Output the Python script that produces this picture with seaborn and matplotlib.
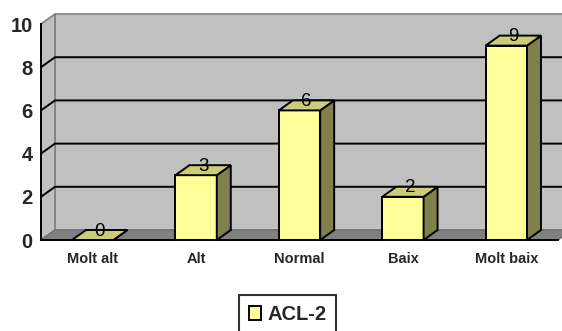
import matplotlib
matplotlib.use("Agg")
import matplotlib.pyplot as plt
import seaborn as sns
from matplotlib.patches import Polygon, Patch

categories = ["Molt alt", "Alt", "Normal", "Baix", "Molt baix"]
values = [0, 3, 6, 2, 9]
series_name = "ACL-2"
y_ticks = [0, 2, 4, 6, 8, 10]

FACE = "#FFFF99"
TOP = "#CCCC7A"
SIDE = "#80804D"
WALL = "#C0C0C0"
FLOOR = "#808080"
EDGE_W = 1.4

sns.set_style("white")
plt.rcParams["font.family"] = ["Liberation Sans", "DejaVu Sans"]
plt.rcParams["font.weight"] = "bold"

W, H = 562, 331
fig = plt.figure(figsize=(W / 100, H / 100), dpi=100)
left, right, base, top = 41, 558, 240, 24
ax = fig.add_axes([left / W, (H - base) / H, (right - left) / W, (base - top) / H])
ax.patch.set_visible(False)

xmin, xmax = -0.5, len(categories) - 0.5
ymin, ymax = 0, 10
px_per_x = (right - left) / (xmax - xmin)
px_per_y = (base - top) / (ymax - ymin)
DX = 14 / px_per_x   # depth offset, horizontal
DY = 10 / px_per_y   # depth offset, vertical

# walls and floor of the 3-D box
ax.add_patch(Polygon([(xmin + DX, DY), (xmax + DX, DY), (xmax + DX, ymax + DY), (xmin + DX, ymax + DY)],
                     closed=True, fc=WALL, ec=FLOOR, lw=1.2, clip_on=False, zorder=0))
ax.add_patch(Polygon([(xmin, 0), (xmin + DX, DY), (xmin + DX, ymax + DY), (xmin, ymax)],
                     closed=True, fc=WALL, ec=FLOOR, lw=1.2, clip_on=False, zorder=0))
ax.add_patch(Polygon([(xmin, 0), (xmax, 0), (xmax + DX, DY), (xmin + DX, DY)],
                     closed=True, fc=FLOOR, ec="#6E6E6E", lw=1.0, clip_on=False, zorder=0.5))

# gridlines across the side and back walls
for t in y_ticks[1:-1]:
    ax.plot([xmin, xmin + DX, xmax + DX], [t, t + DY, t + DY], color="black",
            lw=EDGE_W, clip_on=False, zorder=1)

sns.barplot(x=categories, y=values, color=FACE, saturation=1, width=0.4,
            edgecolor="black", linewidth=EDGE_W, ax=ax, zorder=3)

for patch, v in zip(ax.patches[3:], values):
    x0, w, h = patch.get_x(), patch.get_width(), patch.get_height()
    ax.add_patch(Polygon([(x0 + w, 0), (x0 + w + DX, DY), (x0 + w + DX, h + DY), (x0 + w, h)],
                         closed=True, fc=SIDE, ec="black", lw=EDGE_W, clip_on=False, zorder=3))
    ax.add_patch(Polygon([(x0, h), (x0 + w, h), (x0 + w + DX, h + DY), (x0 + DX, h + DY)],
                         closed=True, fc=TOP, ec="black", lw=EDGE_W, clip_on=False, zorder=3))
    ax.text(x0 + w / 2 + DX / 2, h + DY * 0.45, f"{v}", ha="center", va="baseline",
            fontsize=13.5, fontweight="medium", color="black", zorder=5)

ax.set_xlim(xmin, xmax)
ax.set_ylim(ymin, ymax)
ax.set_xlabel("")
ax.set_ylabel("")
ax.set_yticks(y_ticks)
ax.set_xticks(range(len(categories)))
ax.set_xticklabels(categories)
ax.set_xticks([i + 0.5 for i in range(len(categories))], minor=True)
ax.tick_params(axis="x", which="major", length=0, pad=8.5, labelsize=10.5)
ax.tick_params(axis="x", which="minor", length=3, width=EDGE_W, color="black", direction="out")
ax.tick_params(axis="y", length=3, width=EDGE_W, color="black", direction="out", pad=3, labelsize=14.5)
for lab in ax.get_xticklabels() + ax.get_yticklabels():
    lab.set_fontweight("bold")

for s in ("top", "right"):
    ax.spines[s].set_visible(False)
for s in ("left", "bottom"):
    ax.spines[s].set_color("black")
    ax.spines[s].set_linewidth(EDGE_W)
    ax.spines[s].set_zorder(4)

handle = Patch(fc=FACE, ec="black", lw=EDGE_W, label=series_name)
leg = fig.legend(handles=[handle], loc="upper center", bbox_to_anchor=(287.5 / W, (H - 295) / H),
                 frameon=True, fancybox=False, edgecolor="black",
                 prop={"weight": "bold", "size": 14.5}, handlelength=0.62, handleheight=0.62,
                 handletextpad=0.3, borderpad=0.5, borderaxespad=0)
leg.get_frame().set_linewidth(1.5)

fig.savefig("out.png", dpi=100)
